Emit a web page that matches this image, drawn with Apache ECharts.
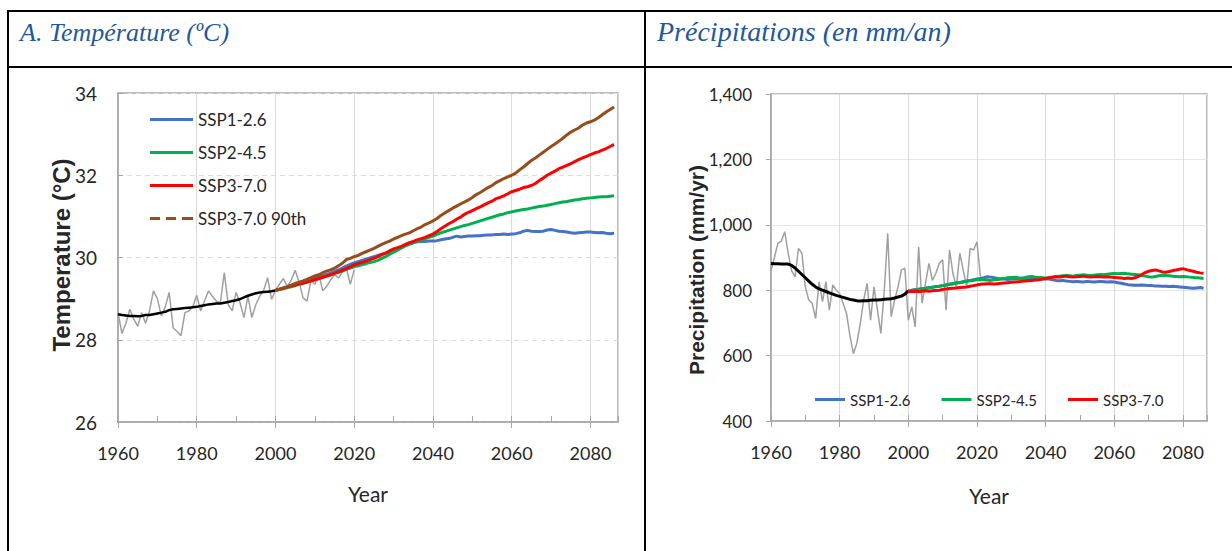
<!DOCTYPE html>
<html><head><meta charset="utf-8">
<script src="https://cdn.jsdelivr.net/npm/echarts/dist/echarts.min.js"></script>
<style>
html,body{margin:0;padding:0;background:#fff;}
#wrap{position:relative;width:1232px;height:551px;overflow:hidden;background:#fff;}
.line{position:absolute;background:#000;}
.hdr{position:absolute;font-family:'Liberation Serif','Times New Roman',serif;font-style:italic;line-height:27px;color:#1F58A0;white-space:nowrap;}
#chart{position:absolute;left:0;top:0;width:1232px;height:551px;}
</style></head>
<body><div id="wrap">
<div class="line" style="left:7px;top:10px;width:1225px;height:2px"></div>
<div class="line" style="left:7px;top:66px;width:1225px;height:2px"></div>
<div class="line" style="left:7px;top:10px;width:2px;height:541px"></div>
<div class="line" style="left:644px;top:10px;width:2px;height:541px"></div>
<div class="hdr" style="left:20px;top:19px;font-size:26px">A. Température (ºC)</div>
<div class="hdr" style="left:657px;top:18px;font-size:28px">Précipitations (en mm/an)</div>
<div id="chart"></div>
</div>
<script>
// ---------- DATA ----------
const obsStart = 1960;
const projStart = 2000;
const seriesNames = ['SSP1-2.6', 'SSP2-4.5', 'SSP3-7.0', 'SSP3-7.0 90th'];
const axisTitles = {year:'Year', temp:'Temperature (°C)', prec:'Precipitation (mm/yr)'};

// Temperature (°C)
const tempObsAnnual = [28.66,28.15,28.40,28.74,28.50,28.33,28.66,28.40,28.70,29.19,
  29.00,28.58,28.80,29.15,28.29,28.20,28.10,28.66,28.70,28.80,
  29.08,28.70,28.95,29.19,29.05,28.94,28.90,29.63,28.85,28.70,
  29.15,28.90,28.54,29.06,28.54,28.85,29.06,29.20,29.51,28.98,
  29.20,29.35,29.49,29.30,29.45,29.69,29.40,29.02,28.94,29.43,
  29.35,29.60,29.19,29.30,29.45,29.59,29.50,29.65,29.75,29.35,29.70];
const tempObsSmooth = [28.62,28.60,28.59,28.58,28.58,28.57,28.58,28.60,28.60,28.62,
  28.64,28.66,28.68,28.72,28.74,28.75,28.76,28.77,28.78,28.79,
  28.80,28.82,28.84,28.86,28.87,28.88,28.88,28.90,28.92,28.94,
  28.96,28.99,29.03,29.07,29.10,29.13,29.15,29.16,29.17,29.18,29.20];
const tempSSP126 = [29.20,29.23,29.26,29.28,29.31,29.34,29.37,29.40,29.43,29.46,
  29.49,29.52,29.56,29.59,29.62,29.66,29.70,29.74,29.79,29.83,
  29.87,29.90,29.93,29.96,29.99,30.02,30.05,30.08,30.10,30.13,
  30.17,30.21,30.26,30.30,30.33,30.36,30.38,30.39,30.39,30.40,
  30.40,30.41,30.43,30.45,30.46,30.49,30.52,30.50,30.51,30.52,
  30.52,30.53,30.53,30.54,30.55,30.55,30.56,30.56,30.57,30.56,
  30.57,30.58,30.60,30.64,30.66,30.64,30.63,30.63,30.64,30.67,
  30.68,30.66,30.64,30.63,30.62,30.60,30.59,30.60,30.61,30.62,
  30.62,30.61,30.60,30.61,30.59,30.58,30.59];
const tempSSP245 = [29.20,29.22,29.24,29.27,29.29,29.32,29.35,29.37,29.40,29.43,
  29.46,29.49,29.52,29.55,29.58,29.61,29.64,29.67,29.71,29.74,
  29.78,29.80,29.83,29.85,29.88,29.90,29.93,29.98,30.02,30.08,
  30.13,30.18,30.23,30.28,30.32,30.36,30.40,30.43,30.46,30.49,
  30.52,30.56,30.60,30.63,30.66,30.69,30.72,30.75,30.78,30.80,
  30.83,30.86,30.89,30.92,30.95,30.98,31.01,31.04,31.06,31.09,
  31.11,31.13,31.15,31.17,31.18,31.20,31.22,31.24,31.25,31.27,
  31.29,31.31,31.33,31.35,31.36,31.38,31.40,31.41,31.43,31.44,
  31.45,31.46,31.47,31.48,31.48,31.49,31.50];
const tempSSP370 = [29.20,29.23,29.25,29.28,29.31,29.33,29.36,29.38,29.40,29.43,
  29.46,29.49,29.52,29.55,29.58,29.62,29.65,29.69,29.73,29.77,
  29.82,29.85,29.88,29.91,29.95,29.98,30.02,30.07,30.11,30.16,
  30.21,30.24,30.27,30.32,30.36,30.39,30.43,30.46,30.49,30.53,
  30.57,30.63,30.70,30.76,30.82,30.87,30.93,30.98,31.05,31.10,
  31.14,31.19,31.23,31.28,31.33,31.37,31.43,31.46,31.50,31.55,
  31.60,31.63,31.66,31.70,31.72,31.75,31.80,31.87,31.93,32.00,
  32.05,32.10,32.16,32.20,32.24,32.28,32.33,32.38,32.42,32.46,
  32.50,32.54,32.57,32.61,32.65,32.70,32.75];
const tempSSP370p90 = [29.20,29.22,29.26,29.29,29.33,29.37,29.40,29.43,29.47,29.51,
  29.55,29.58,29.63,29.67,29.70,29.74,29.80,29.86,29.95,29.98,
  30.02,30.05,30.10,30.14,30.18,30.22,30.27,30.32,30.36,30.40,
  30.45,30.49,30.53,30.57,30.60,30.65,30.70,30.74,30.80,30.84,
  30.89,30.95,31.02,31.08,31.14,31.20,31.25,31.30,31.35,31.40,
  31.46,31.53,31.58,31.64,31.70,31.75,31.82,31.87,31.92,31.96,
  32.00,32.05,32.13,32.20,32.28,32.36,32.42,32.49,32.56,32.63,
  32.70,32.76,32.83,32.90,32.98,33.05,33.10,33.15,33.22,33.27,
  33.30,33.34,33.40,33.47,33.54,33.60,33.66];

// Precipitation (mm/yr)
const precObsAnnual = [860,900,943,950,979,913,860,841,928,913,
  810,770,760,713,826,765,826,739,816,800,
  790,760,729,660,606,637,698,770,821,708,
  810,740,668,800,974,719,770,810,862,867,
  708,749,688,933,760,821,882,830,851,882,
  893,739,923,851,810,913,861,810,928,923,948,841];
const precObsSmooth = [882,881,881,880,880,880,876,868,858,848,
  838,828,818,810,804,800,796,792,788,784,
  781,778,775,772,770,768,767,768,768,769,
  770,770,771,772,773,774,776,779,782,788,798];
const precSSP126 = [798,800,802,803,805,806,808,809,811,812,
  814,816,818,820,822,824,826,828,830,832,
  834,836,838,841,840,838,836,835,834,833,
  834,835,836,835,834,836,835,834,833,834,
  835,834,832,830,829,830,828,827,826,827,
  826,825,827,826,825,826,827,826,825,826,
  825,823,821,819,817,816,815,815,816,815,
  814,814,813,813,812,812,811,812,811,810,
  809,808,807,806,807,808,806];
const precSSP245 = [798,799,801,803,804,806,807,809,811,812,
  814,816,818,820,822,823,825,827,829,830,
  832,833,832,831,830,832,833,834,836,838,
  839,840,838,837,839,841,842,840,839,838,
  837,838,840,842,843,844,845,844,843,845,
  846,847,846,845,846,847,848,847,849,850,
  851,850,851,852,850,849,848,847,845,843,
  841,840,842,844,846,845,844,843,842,841,
  842,841,840,839,838,837,836];
const precSSP370 = [795,796,797,796,797,798,797,798,799,800,
  802,804,805,806,807,808,809,810,812,814,
  816,818,819,820,820,819,820,821,822,823,
  824,825,826,827,828,829,830,831,832,834,
  836,838,840,841,840,842,843,841,840,841,
  842,843,841,840,841,842,841,840,841,840,
  839,838,837,836,837,836,838,842,848,854,
  858,860,862,859,856,855,857,860,862,864,
  866,863,860,858,855,853,852];

// ---------- CHART ----------
const toPairs = (arr, start) => arr.map((v, i) => [start + i, v]);
const FONT = "'Lato', 'Open Sans', sans-serif";
const BOLD = "'Liberation Sans', Arial, sans-serif";
const TXT = '#262626';
const COL = {blue:'#4472C4', green:'#00B050', red:'#FF0000', brown:'#974C1C', gray:'#A0A0A0', black:'#000000'};
const DASH_ICON = 'path://M0,0h10v3h-10zM16,0h10v3h-10zM32,0h11v3h-11z';

function xAxes(grid, gap, fs) {
  return [{
    type:'value', gridIndex:grid, min:1960, max:2087, interval:20, position:'bottom',
    name:axisTitles.year, nameLocation:'middle', nameGap:gap, nameMoveOverlap:false,
    nameTextStyle:{fontFamily:FONT, fontSize:21, color:TXT},
    axisLine:{show:true, lineStyle:{color:'#A6A6A6', width:1.5}},
    axisTick:{show:true, inside:false, length:6, lineStyle:{color:'#A6A6A6'}},
    axisLabel:{fontFamily:FONT, fontSize:fs, color:TXT, margin:22, showMaxLabel:false,
      formatter: v => (v % 20 === 0 ? String(v) : '')},
    splitLine:{show:true, lineStyle:{color:'#DADADA', width:1}}
  }, {
    type:'value', gridIndex:grid, min:1960, max:2087, interval:10, position:'bottom',
    axisLine:{show:false}, axisLabel:{show:false}, splitLine:{show:false},
    axisTick:{show:true, inside:true, length:6, lineStyle:{color:'#A6A6A6'}}
  }];
}

const option = {
  animation:false,
  grid:[
    {left:118, top:93, width:500, height:329, show:true, borderColor:'#A6A6A6', borderWidth:1.5, backgroundColor:'transparent'},
    {left:771, top:94, width:436, height:327, show:true, borderColor:'#A6A6A6', borderWidth:1.5, backgroundColor:'transparent'}
  ],
  xAxis:[...xAxes(0, 61, 18), ...xAxes(1, 64, 18)],
  yAxis:[{
    type:'value', gridIndex:0, min:26, max:34, interval:2,
    axisLine:{show:true, lineStyle:{color:'#A6A6A6', width:1.5}},
    axisTick:{show:true, inside:true, length:5, lineStyle:{color:'#A6A6A6'}},
    axisLabel:{fontFamily:FONT, fontSize:19, color:TXT, margin:21},
    splitLine:{show:true, lineStyle:{color:'#DDDDDD', type:[5,4], width:1}}
  },{
    type:'value', gridIndex:1, min:400, max:1400, interval:200,
    axisLine:{show:true, lineStyle:{color:'#A6A6A6', width:1.5}},
    axisTick:{show:true, inside:false, length:5, lineStyle:{color:'#A6A6A6'}},
    axisLabel:{fontFamily:FONT, fontSize:17, color:TXT, margin:19,
      formatter: v => v.toLocaleString('en-US')},
    splitLine:{show:true, lineStyle:{color:'#E6E6E6', width:1}}
  }],
  graphic:[
    {type:'text', x:61, y:255, rotation:Math.PI/2, silent:true,
      style:{text:axisTitles.temp, fontFamily:BOLD, fontWeight:'bold', fontSize:24, fill:TXT, align:'center', verticalAlign:'middle'}},
    {type:'text', x:696, y:270, rotation:Math.PI/2, silent:true,
      style:{text:axisTitles.prec, fontFamily:BOLD, fontWeight:'bold', fontSize:21, fill:TXT, align:'center', verticalAlign:'middle'}}
  ],
  legend:[{
    orient:'vertical', left:150, top:111, padding:0, itemGap:16, itemWidth:43, itemHeight:3,
    textStyle:{fontFamily:FONT, fontSize:17, color:TXT},
    data:[
      {name:seriesNames[0], icon:'rect'}, {name:seriesNames[1], icon:'rect'}, {name:seriesNames[2], icon:'rect'},
      {name:seriesNames[3], icon:DASH_ICON}
    ]
  },{
    orient:'horizontal', left:815, top:392, padding:0, itemGap:31, itemWidth:30, itemHeight:3,
    textStyle:{fontFamily:FONT, fontSize:15, color:TXT},
    data:[{name:'P1', icon:'rect'}, {name:'P2', icon:'rect'}, {name:'P3', icon:'rect'}]
  }],
  series:[
    // temperature
    {type:'line', xAxisIndex:0, yAxisIndex:0, data:toPairs(tempObsAnnual, obsStart), symbol:'none', lineStyle:{color:COL.gray, width:1.5}, z:1},
    {type:'line', xAxisIndex:0, yAxisIndex:0, data:toPairs(tempObsSmooth, obsStart), symbol:'none', lineStyle:{color:COL.black, width:2.5}, z:2},
    {name:seriesNames[0], type:'line', xAxisIndex:0, yAxisIndex:0, data:toPairs(tempSSP126, projStart), symbol:'none', color:COL.blue, lineStyle:{color:COL.blue, width:3}, z:3},
    {name:seriesNames[1], type:'line', xAxisIndex:0, yAxisIndex:0, data:toPairs(tempSSP245, projStart), symbol:'none', color:COL.green, lineStyle:{color:COL.green, width:3}, z:4},
    {name:seriesNames[2], type:'line', xAxisIndex:0, yAxisIndex:0, data:toPairs(tempSSP370, projStart), symbol:'none', color:COL.red, lineStyle:{color:COL.red, width:3}, z:5},
    {name:seriesNames[3], type:'line', xAxisIndex:0, yAxisIndex:0, data:toPairs(tempSSP370p90, projStart), symbol:'none', color:COL.brown, lineStyle:{color:COL.brown, width:3}, z:6},
    // precipitation
    {type:'line', xAxisIndex:2, yAxisIndex:1, data:toPairs(precObsAnnual, obsStart), symbol:'none', lineStyle:{color:COL.gray, width:1.5}, z:1},
    {type:'line', xAxisIndex:2, yAxisIndex:1, data:toPairs(precObsSmooth, obsStart), symbol:'none', lineStyle:{color:COL.black, width:3}, z:2},
    {name:'P1', type:'line', xAxisIndex:2, yAxisIndex:1, data:toPairs(precSSP126, projStart), symbol:'none', color:COL.blue, lineStyle:{color:COL.blue, width:3}, z:3},
    {name:'P2', type:'line', xAxisIndex:2, yAxisIndex:1, data:toPairs(precSSP245, projStart), symbol:'none', color:COL.green, lineStyle:{color:COL.green, width:3}, z:4},
    {name:'P3', type:'line', xAxisIndex:2, yAxisIndex:1, data:toPairs(precSSP370, projStart), symbol:'none', color:COL.red, lineStyle:{color:COL.red, width:3}, z:5}
  ]
};
// legend labels for precipitation chart show the scenario names
option.legend[1].formatter = n => ({P1:seriesNames[0], P2:seriesNames[1], P3:seriesNames[2]})[n];

const chart = echarts.init(document.getElementById('chart'), null, {renderer:'svg'});
chart.setOption(option);
</script>
</body></html>
